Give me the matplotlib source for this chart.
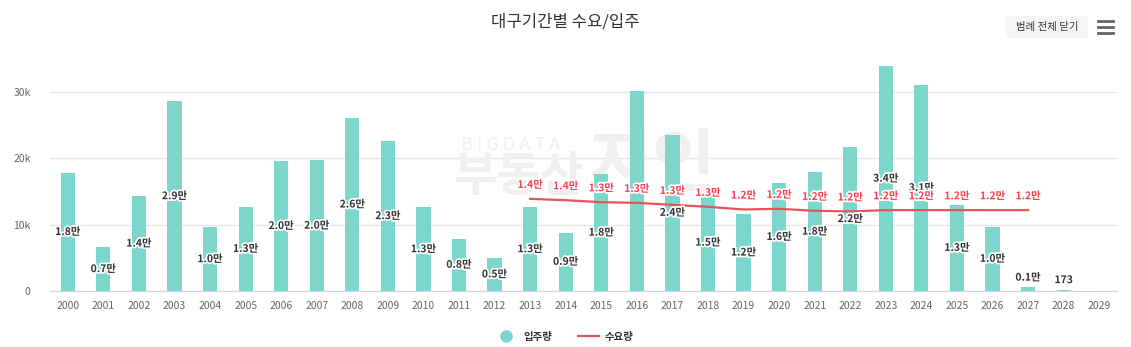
import matplotlib.pyplot as plt
import matplotlib.patheffects as pe
from matplotlib.lines import Line2D
from matplotlib.patches import FancyBboxPatch
from decimal import Decimal, ROUND_HALF_UP

plt.rcParams['font.family'] = ['Noto Sans CJK KR', 'DejaVu Sans']

years = [str(y) for y in range(2000, 2030)]
# 입주량 (세대)
supply = [17800, 6600, 14300, 28600, 9600, 12700, 19600, 19700, 26100, 22600,
          12600, 7900, 5000, 12600, 8800, 17600, 30200, 23600, 14600, 11600,
          16300, 17900, 21700, 33900, 31100, 13000, 9700, 550, 173, 0]
# 수요량 (2013~2027)
demand_years = [str(y) for y in range(2013, 2028)]
demand = [13900, 13700, 13400, 13300, 13000, 12700, 12300, 12400,
          12100, 12000, 12200, 12200, 12200, 12200, 12200]
# 라벨이 겹쳐서 숨겨지는 막대
hidden_labels = ['2016']

BAR = '#7cd6cb'
LINE = '#e8535b'
LABEL_RED = '#ff3f4f'
TEXT = '#333333'
AXIS = '#666666'
MARK = '#f0f0f0'


def fmt(v):
    man = Decimal(v) / Decimal(10000)
    man = man.quantize(Decimal('0.1'), rounding=ROUND_HALF_UP)
    if man == 0:
        return str(v)
    return '%s만' % man


fig = plt.figure(figsize=(11.31, 3.47), dpi=100)
ax = fig.add_axes([50 / 1131, 56 / 347, 1067 / 1131, 232 / 347])

# 워터마크
ax.text(0.385, 0.63, 'B I G D A T A', transform=ax.transAxes, fontsize=13,
        color=MARK, ha='left', va='center', zorder=1)
ax.text(0.378, 0.49, '부동산', transform=ax.transAxes, fontsize=34,
        fontweight='bold', color=MARK, ha='left', va='center', zorder=1)
ax.text(0.505, 0.54, '지인', transform=ax.transAxes, fontsize=50,
        fontweight='bold', color=MARK, ha='left', va='center', zorder=1)

x = list(range(len(years)))
ax.bar(x, supply, width=0.4, color=BAR, zorder=2)

dx = [years.index(y) for y in demand_years]
ax.plot(dx, demand, color=LINE, lw=1.6, zorder=3)

stroke = [pe.withStroke(linewidth=2.5, foreground='white')]
for xi, yr, v in zip(x, years, supply):
    if v == 0 or yr in hidden_labels:
        continue
    if v >= 3000:
        ax.text(xi, v / 2, fmt(v), ha='center', va='center', fontsize=7.5,
                fontweight='bold', color=TEXT, path_effects=stroke, zorder=5)
    else:
        ax.annotate(fmt(v), (xi, v), xytext=(0, 7), textcoords='offset points',
                    ha='center', va='center', fontsize=7.5, fontweight='bold',
                    color=TEXT, path_effects=stroke, zorder=5)

for xi, v in zip(dx, demand):
    ax.annotate(fmt(v), (xi, v), xytext=(0, 10), textcoords='offset points',
                ha='center', va='center', fontsize=7.5, fontweight='bold',
                color=LABEL_RED, path_effects=stroke, zorder=6)

ax.set_xlim(-0.5, len(years) - 0.5)
ax.set_ylim(0, 35000)
ax.set_yticks([0, 10000, 20000, 30000])
ax.set_yticklabels(['0', '10k', '20k', '30k'])
ax.set_xticks(x)
ax.set_xticklabels(years)
ax.tick_params(axis='both', length=0, labelsize=7.5, colors=AXIS)
ax.tick_params(axis='y', pad=14)
ax.tick_params(axis='x', pad=7)
ax.grid(axis='y', color='#e6e6e6', lw=1, zorder=0)
ax.set_axisbelow(True)
for s in ['top', 'right', 'left']:
    ax.spines[s].set_visible(False)
ax.spines['bottom'].set_color('#ccd6eb')

fig.text(565 / 1131, 1 - 22 / 347, '대구기간별 수요/입주', ha='center', va='center',
         fontsize=12, color=TEXT)

# 범례 버튼 / 메뉴
fig.patches.append(FancyBboxPatch((1006 / 1131, 1 - 38 / 347), 82 / 1131, 22 / 347,
                                  boxstyle='square,pad=0', transform=fig.transFigure,
                                  facecolor='#f5f5f5', edgecolor='none'))
fig.text(1047 / 1131, 1 - 27 / 347, '범례 전체 닫기', ha='center', va='center',
         fontsize=7.5, color=TEXT)
for yy in (21, 27, 33):
    fig.lines.append(Line2D([1098 / 1131, 1113 / 1131], [1 - yy / 347] * 2,
                            transform=fig.transFigure, color='#666666', lw=2))

handles = [Line2D([], [], marker='o', ls='none', color=BAR, markersize=8),
           Line2D([], [], color=LINE, lw=1.6)]
fig.legend(handles, ['입주량', '수요량'], loc='center', ncol=2,
           bbox_to_anchor=(565 / 1131, 1 - 337 / 347), frameon=False,
           prop={'size': 7.5, 'weight': 'bold'}, labelcolor=TEXT,
           handlelength=2, columnspacing=2.5, handletextpad=0.6)

fig.savefig('out.png', dpi=100)
